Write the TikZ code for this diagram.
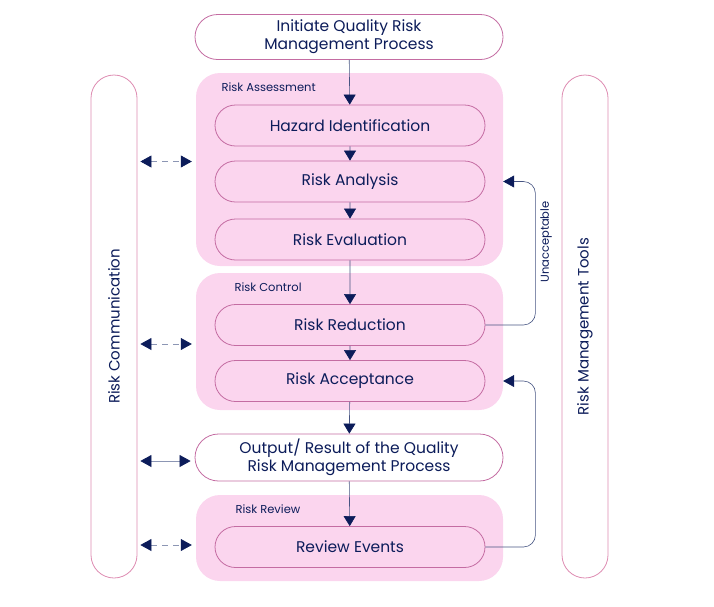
\documentclass[tikz,border=0pt]{standalone}
\usepackage{fontspec}
\setmainfont{Poppins}
\usetikzlibrary{shapes.misc, arrows.meta, calc}

\definecolor{navy}{RGB}{12,28,90}
\definecolor{pinkfill}{RGB}{251,213,238}
\definecolor{pinkline}{RGB}{196,108,162}
\definecolor{sideline}{RGB}{222,140,178}
\definecolor{dashgray}{RGB}{140,150,180}
\definecolor{stemgray}{RGB}{70,84,130}

\tikzset{
  pill/.style={draw=pinkline, line width=0.8pt, rounded rectangle, fill=white, text=navy,
    font=\fontsize{15.5}{18}\selectfont, align=center, inner sep=0pt},
  stepbox/.style={pill, fill=pinkfill, minimum width=270, minimum height=41},
  sidebar/.style={pill, draw=sideline, rotate=90, minimum width=503, minimum height=46,
    font=\fontsize{15}{18}\selectfont},
  group/.style={fill=pinkfill, rounded corners=24, minimum width=307, inner sep=0pt},
  grouplabel/.style={anchor=west, text=navy, font=\fontsize{11.5}{13}\selectfont},
  flow/.style={stemgray, line width=0.6pt, -{Triangle[width=12pt,length=10pt,color=navy]}},
  talk/.style={dashgray, line width=0.7pt,
    {Triangle[width=12pt,length=11pt,color=navy]}-{Triangle[width=12pt,length=11pt,color=navy]},
    shorten <=3pt, shorten >=4pt},
  loopback/.style={stemgray, line width=0.6pt, rounded corners=12,
    -{Triangle[width=12pt,length=11pt,color=navy]}}
}

\begin{document}
\begin{tikzpicture}[x=1pt, y=-1pt]
\useasboundingbox (0,0) rectangle (714,606);

% pink stage blocks
\node[group, minimum height=193] (assess) at (349.5,169.5) {};
\node[group, minimum height=137] (control) at (349.5,341.5) {};
\node[group, minimum height=86] (review) at (349.5,538) {};
\node[grouplabel] (assesslbl) at (218,87) {Risk Assessment};
\node[grouplabel] (controllbl) at (231,287) {Risk Control};
\node[grouplabel] (reviewlbl) at (232,509) {Risk Review};

% process steps
\node[pill, minimum width=308, minimum height=45] (start) at (349,37) {Initiate Quality Risk\\Management Process};
\node[stepbox] (hazard) at (350,125.5) {Hazard Identification};
\node[stepbox] (analysis) at (350,181.5) {Risk Analysis};
\node[stepbox] (evaluation) at (350,239.5) {Risk Evaluation};
\node[stepbox] (reduction) at (350,325) {Risk Reduction};
\node[stepbox] (acceptance) at (350,381) {Risk Acceptance};
\node[pill, minimum width=308, minimum height=47] (output) at (349,457.5) {Output/ Result of the Quality\\Risk Management Process};
\node[stepbox] (events) at (350,547) {Review Events};

% side bars (rotated, so .south is the right edge)
\node[sidebar] (comm) at (114,326.5) {Risk Communication};
\node[sidebar] (tools) at (585,326.5) {Risk Management Tools};

% main flow
\draw[flow] (start) -- (hazard);
\draw[flow] (hazard) -- (analysis);
\draw[flow] (analysis) -- (evaluation);
\draw[flow] (evaluation) -- (reduction);
\draw[flow] (reduction) -- (acceptance);
\draw[flow] (acceptance) -- (output);
\draw[flow] (output) -- (events);

% communication links
\draw[talk, dashed, dash pattern=on 6pt off 5pt] ([yshift=8pt]comm.south |- assess) -- ([yshift=8pt]assess.west);
\draw[talk, dashed, dash pattern=on 6pt off 5pt] ([yshift=-2.5pt]comm.south |- control) -- ([yshift=-2.5pt]control.west);
\draw[talk] ([yshift=-3.5pt]comm.south |- output) -- ([yshift=-3.5pt]output.west);
\draw[talk, dashed, dash pattern=on 6pt off 5pt] ([yshift=-7pt]comm.south |- review) -- ([yshift=-7pt]review.west);

% feedback loops
\draw[loopback] (reduction.east) -| ($(analysis.east)+(50,0)$) -- (analysis -| assess.east);
\draw[loopback] (events.east) -| ($(acceptance.east)+(50,0)$) -- (acceptance -| control.east);
\node[text=navy, rotate=90, font=\fontsize{11.5}{13}\selectfont] (unacc) at (546,242) {Unacceptable};
\end{tikzpicture}
\end{document}
